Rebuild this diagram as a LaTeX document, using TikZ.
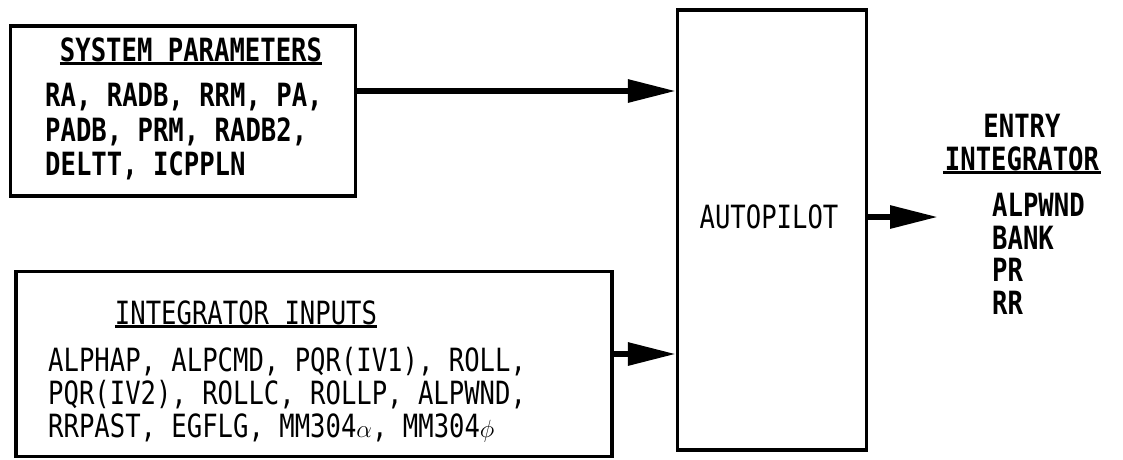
\documentclass[tikz,border=0pt]{standalone}
\usepackage{fontspec}
\setmainfont{DejaVu Sans Mono}[FakeStretch=0.8]
\usetikzlibrary{positioning,arrows.meta}

\begin{document}
\begin{tikzpicture}[
  x=1pt, y=-1pt,
  blk/.style={rectangle, draw, line width=3.2pt, inner sep=0pt},
  lbl/.style={inner sep=0pt, font=\fontsize{32}{33}\selectfont},
  lblb/.style={lbl, font=\fontsize{32}{33}\selectfont\bfseries},
  body/.style={lbl, align=left, anchor=west},
  uline/.style={line width=2.8pt},
  flow/.style={line width=6pt, -{Triangle[length=48pt,width=22pt]}},
]
\useasboundingbox (0,0) rectangle (1123,459);

% --- Blocks ---
\node[blk, minimum width=345pt, minimum height=170pt] (sysbox) at (183,111) {};
\node[blk, minimum width=596pt, minimum height=185pt] (intbox) at (314,364) {};
\node[blk, minimum width=189pt, minimum height=440pt] (autop) at (772,230) {};

% --- Block texts ---
\node[lblb] (systitle) at (191,50) {SYSTEM PARAMETERS};
\draw[uline] ([yshift=-1pt]systitle.south west) -- ([yshift=-1pt]systitle.south east);
\node[body, font=\fontsize{32}{34.5}\selectfont\bfseries] (sysvars) at (45,132)
  {RA, RADB, RRM, PA,\\PADB, PRM, RADB2,\\DELTT, ICPPLN};

\node[lbl] (inttitle) at (246,313) {INTEGRATOR INPUTS};
\draw[uline] ([yshift=-1pt]inttitle.south west) -- ([yshift=-1pt]inttitle.south east);
\node[body] (intvars) at (48,395)
  {ALPHAP, ALPCMD, PQR(IV1), ROLL,\\PQR(IV2), ROLLC, ROLLP, ALPWND,\\RRPAST, EGFLG, MM304$\alpha$, MM304$\phi$};

\node[lbl] (aplabel) at (769,217) {AUTOPILOT};

% --- Output list ---
\node[lblb, align=center] (outtitle) at (1022,143) {ENTRY\\INTEGRATOR};
\draw[uline] ([xshift=-2pt,yshift=-1pt]outtitle.south west) -- ([xshift=2pt,yshift=-1pt]outtitle.south east);
\node[body, font=\fontsize{32}{32.5}\selectfont\bfseries] (outvars) at (992,254)
  {ALPWND\\BANK\\PR\\RR};

% --- Connectors ---
\coordinate (a1) at ([yshift=20pt]sysbox.east);
\coordinate (a2) at ([yshift=10pt]intbox.east);
\coordinate (a3) at ([yshift=13pt]autop.east);
\coordinate (outtip) at (938,217);
\draw[flow] (a1) -- (a1 -| autop.west);
\draw[flow] (a2) -- (a2 -| autop.west);
\draw[flow] (a3) -- (outtip);
\end{tikzpicture}
\end{document}
